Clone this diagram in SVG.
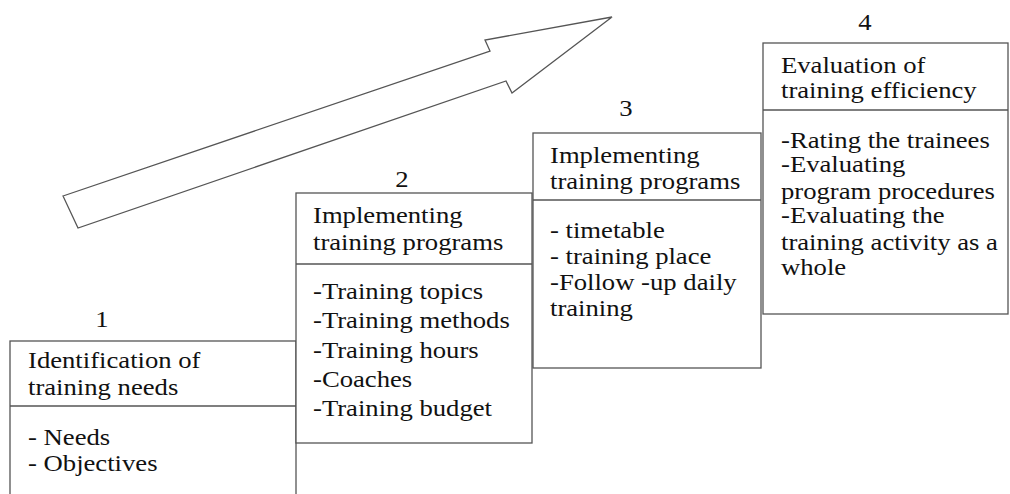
<svg xmlns="http://www.w3.org/2000/svg" width="1010" height="494" viewBox="0 0 1010 494">
<style>
.box{fill:#fff;stroke:#555;stroke-width:1.3}
.div{stroke:#555;stroke-width:1.3}
.arrow{fill:#fff;stroke:#555;stroke-width:1.3;stroke-linejoin:miter}
.t{font-family:'Liberation Serif','Tinos','DejaVu Serif',serif;font-size:23px;fill:#111}
.num{text-anchor:middle}
</style>
<rect width="1010" height="494" fill="#fff"/>
<g id="connectors">
<polygon class="arrow" points="63,196 490,51 485,40 612,17 512,93 506,81 78,228"/>
</g>
<g id="step1" class="t">
<rect class="box" x="10" y="341" width="286" height="160"/>
<line class="div" x1="10" y1="406" x2="296" y2="406"/>
<g transform="translate(102,0) scale(1.16,1)"><text class="num" x="0" y="327">1</text></g>
<g transform="translate(28,0) scale(1.16,1)">
<text x="0" y="368">Identification of</text>
<text x="0" y="395">training needs</text>
<text x="0" y="445">- Needs</text>
<text x="0" y="471">- Objectives</text>
</g>
</g>
<g id="step2" class="t">
<rect class="box" x="296" y="193" width="236" height="250"/>
<line class="div" x1="296" y1="264" x2="532" y2="264"/>
<g transform="translate(402,0) scale(1.16,1)"><text class="num" x="0" y="187">2</text></g>
<g transform="translate(313,0) scale(1.16,1)">
<text x="0" y="223">Implementing</text>
<text x="0" y="250">training programs</text>
<text x="0" y="299">-Training topics</text>
<text x="0" y="328">-Training methods</text>
<text x="0" y="358">-Training hours</text>
<text x="0" y="387">-Coaches</text>
<text x="0" y="416">-Training budget</text>
</g>
</g>
<g id="step3" class="t">
<rect class="box" x="533" y="133" width="228" height="235"/>
<line class="div" x1="533" y1="200" x2="761" y2="200"/>
<g transform="translate(626,0) scale(1.16,1)"><text class="num" x="0" y="116">3</text></g>
<g transform="translate(550,0) scale(1.16,1)">
<text x="0" y="163">Implementing</text>
<text x="0" y="189">training programs</text>
<text x="0" y="238">- timetable</text>
<text x="0" y="264">- training place</text>
<text x="0" y="290">-Follow -up daily</text>
<text x="0" y="316">training</text>
</g>
</g>
<g id="step4" class="t">
<rect class="box" x="763" y="43" width="245" height="271"/>
<line class="div" x1="763" y1="110" x2="1008" y2="110"/>
<g transform="translate(865,0) scale(1.16,1)"><text class="num" x="0" y="30">4</text></g>
<g transform="translate(781,0) scale(1.16,1)">
<text x="0" y="73">Evaluation of</text>
<text x="0" y="98">training efficiency</text>
<text x="0" y="148">-Rating the trainees</text>
<text x="0" y="172">-Evaluating</text>
<text x="0" y="199">program procedures</text>
<text x="0" y="223">-Evaluating the</text>
<text x="0" y="250">training activity as a</text>
<text x="0" y="275">whole</text>
</g>
</g>
</svg>
